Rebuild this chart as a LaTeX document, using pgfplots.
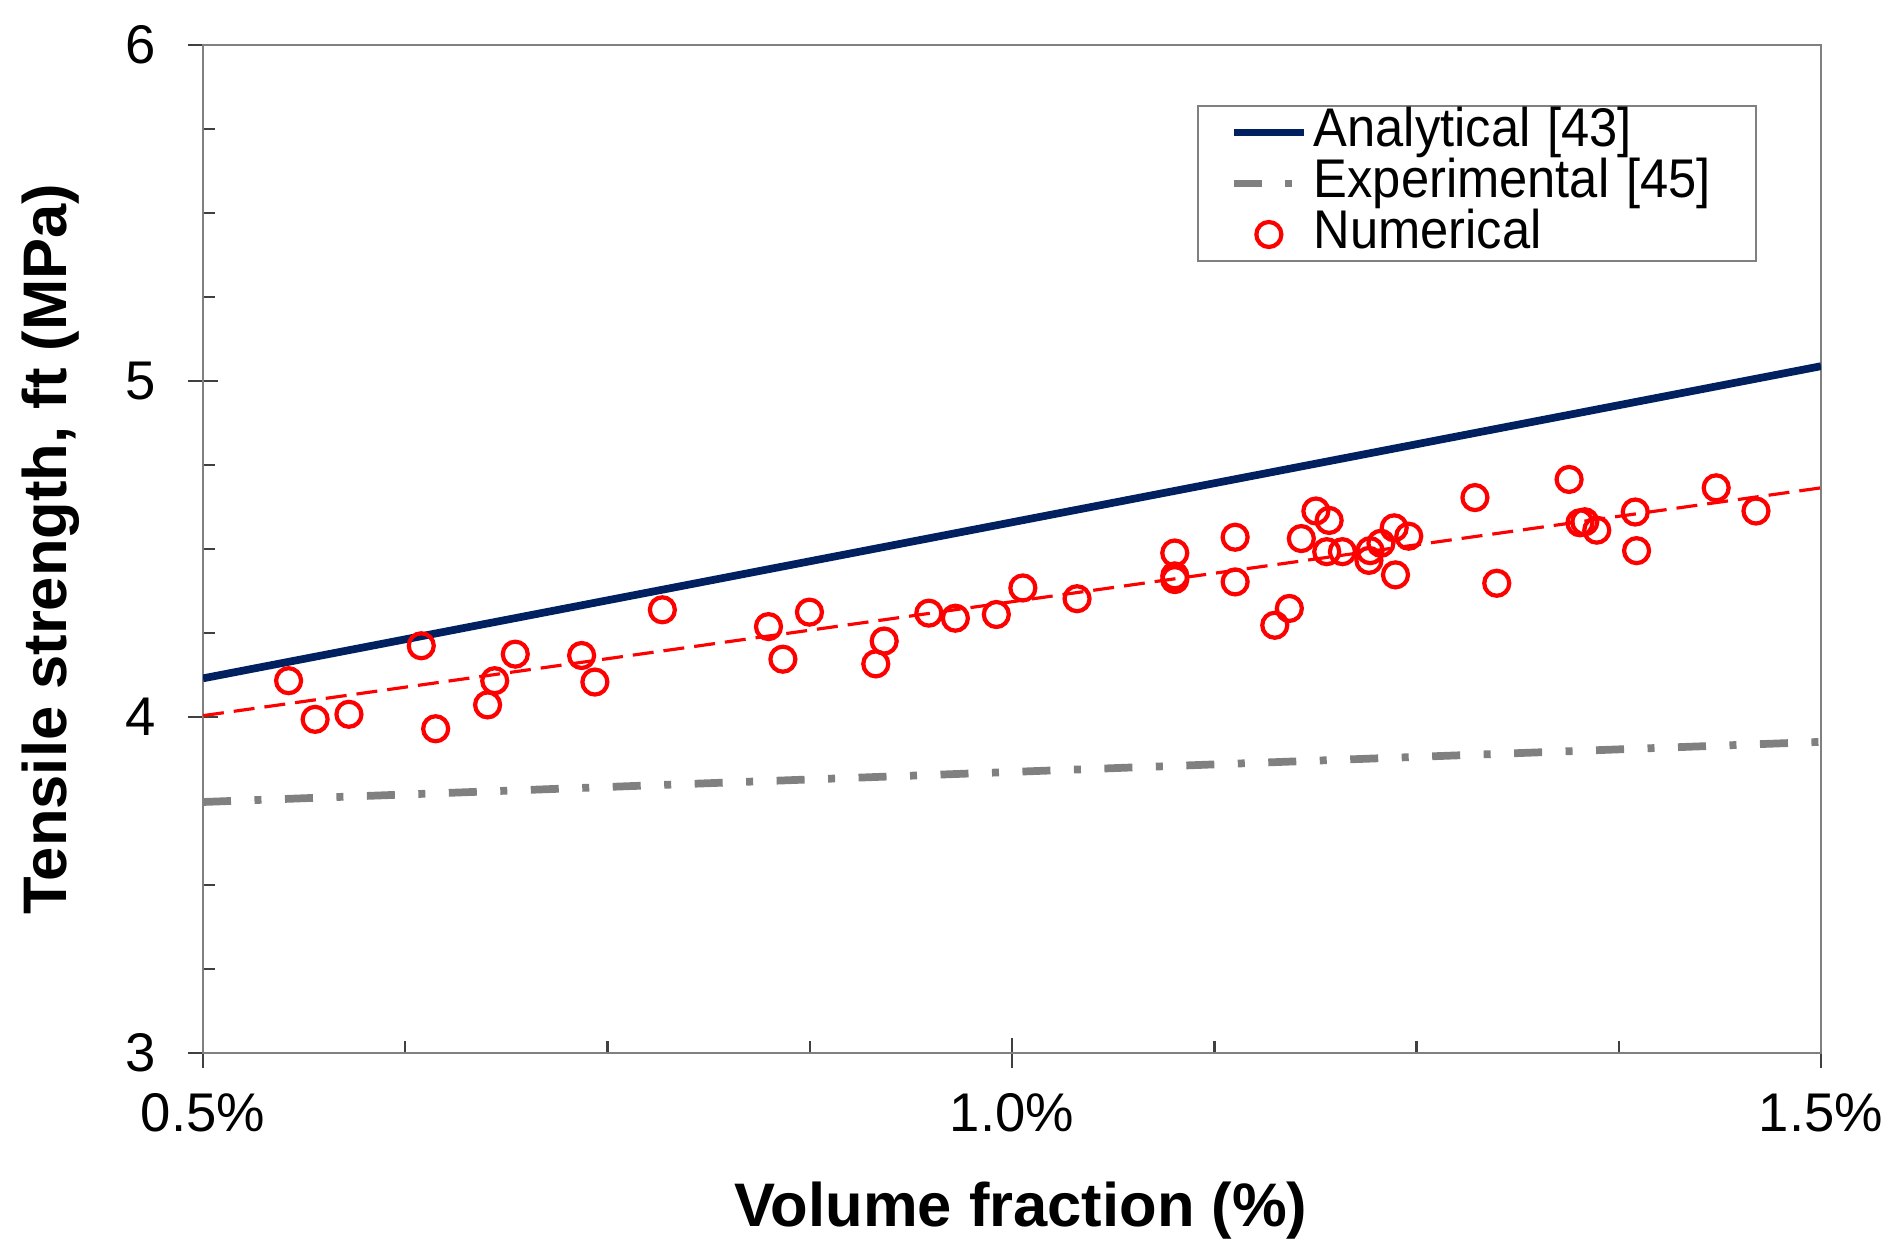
\documentclass[border=0pt]{standalone}
\usepackage{pgfplots}
\pgfplotsset{compat=1.18}
\usepackage{pgfplotstable}
\usepackage{fontspec}
\setmainfont{Liberation Sans}
\usetikzlibrary{calc}
\definecolor{navy}{RGB}{0,32,96}
\definecolor{lgray}{RGB}{128,128,128}
\definecolor{axgray}{RGB}{128,128,128}

\pgfplotstableread{
x y
0.5529 4.108
0.5693 3.993
0.5902 4.008
0.6349 4.212
0.6438 3.965
0.6759 4.036
0.6803 4.108
0.6930 4.187
0.7340 4.183
0.7422 4.104
0.7839 4.319
0.8495 4.269
0.8584 4.172
0.8748 4.312
0.9158 4.158
0.9210 4.226
0.9486 4.309
0.9650 4.294
0.9903 4.305
1.0067 4.384
1.0402 4.352
1.1006 4.488
1.1006 4.420
1.1006 4.409
1.1379 4.535
1.1379 4.402
1.1624 4.273
1.1714 4.323
1.1788 4.531
1.1878 4.613
1.1960 4.585
1.1945 4.492
1.2042 4.492
1.2206 4.466
1.2213 4.495
1.2280 4.517
1.2362 4.563
1.2370 4.423
1.2452 4.538
1.2861 4.653
1.2996 4.398
1.3443 4.707
1.3510 4.578
1.3540 4.581
1.3614 4.556
1.3852 4.610
1.3860 4.495
1.4352 4.682
1.4598 4.613
}\numdata

\newcommand{\lt}[1]{\scalebox{0.93}[1]{#1}}

\begin{document}
\begin{tikzpicture}
\begin{axis}[
  scale only axis,
  width=161.8mm, height=100.8mm,
  xmin=0.5, xmax=1.5, ymin=3, ymax=6,
  xtick={0.5,1,1.5},
  xticklabels={0.5\%,1.0\%,1.5\%},
  ytick={3,4,5,6},
  minor x tick num=3,
  minor y tick num=3,
  tick pos=left,
  tick align=center,
  major tick length=3mm,
  minor tick length=1.2mm,
  minor x tick style={yshift=0.6mm},
  minor y tick style={xshift=0.6mm},
  tick style={color=black!75, line width=0.7pt},
  axis line style={color=axgray, line width=0.8pt},
  /pgf/number format/assume math mode=true,
  ticklabel style={font=\fontsize{15.5}{18}\selectfont, inner sep=0pt},
  yticklabel style={anchor=east, xshift=-3.1mm},
  xticklabel style={anchor=north, yshift=-2.5mm},
  every axis x label/.style={at={(axis description cs:0.5055,-0.1567)}, anchor=center},
  every axis y label/.style={at={(axis description cs:-0.0939,0.5)}, rotate=90, anchor=center},
  xlabel={\fontsize{17.5}{20}\selectfont\bfseries Volume fraction (\%)},
  ylabel={\fontsize{17.5}{20}\selectfont\bfseries Tensile strength, ft (MPa)},
  legend cell align=left,
  legend image code/.code={\draw[mark repeat=2,mark phase=2,#1] plot coordinates {(0mm,0mm) (3.5mm,0mm) (7mm,0mm)};},
  legend style={at={(axis description cs:0.6143,0.9405)}, anchor=north west,
    draw=lgray, line width=0.6pt, inner xsep=3.2mm, inner ysep=0.1mm,
    row sep=0pt,
    font=\fontsize{15.5}{17}\selectfont,
    nodes={inner xsep=0.6mm, inner ysep=0pt, text height=3.9mm, text depth=1.2mm, text width=40.4mm, align=left}},
]
\addplot[red, line width=0.9pt, dash pattern=on 2.1mm off 1mm, forget plot] coordinates {(0.5,4.004) (1.5,4.682)};
\addplot[navy, line width=2.2pt] coordinates {(0.5,4.115) (1.5,5.044)};
\addlegendentry{\lt{Analytical [43]}}
\addplot[lgray, line width=2.2pt, dash pattern=on 2.8mm off 2.35mm on 0.7mm off 2.35mm] coordinates {(0.5,3.747) (1.5,3.926)};
\addlegendentry{\lt{Experimental [45]}}
\addplot[only marks, mark=o, mark size=1.25mm, red, mark options={line width=1.2pt, solid}] table[x=x,y=y] {\numdata};
\addlegendentry{\lt{Numerical}}
\end{axis}
\pgfresetboundingbox
\path ($(current axis.south west)+(-20.3mm,-20.7mm)$) rectangle ($(current axis.north east)+(6.8mm,4.5mm)$);
\end{tikzpicture}
\end{document}
